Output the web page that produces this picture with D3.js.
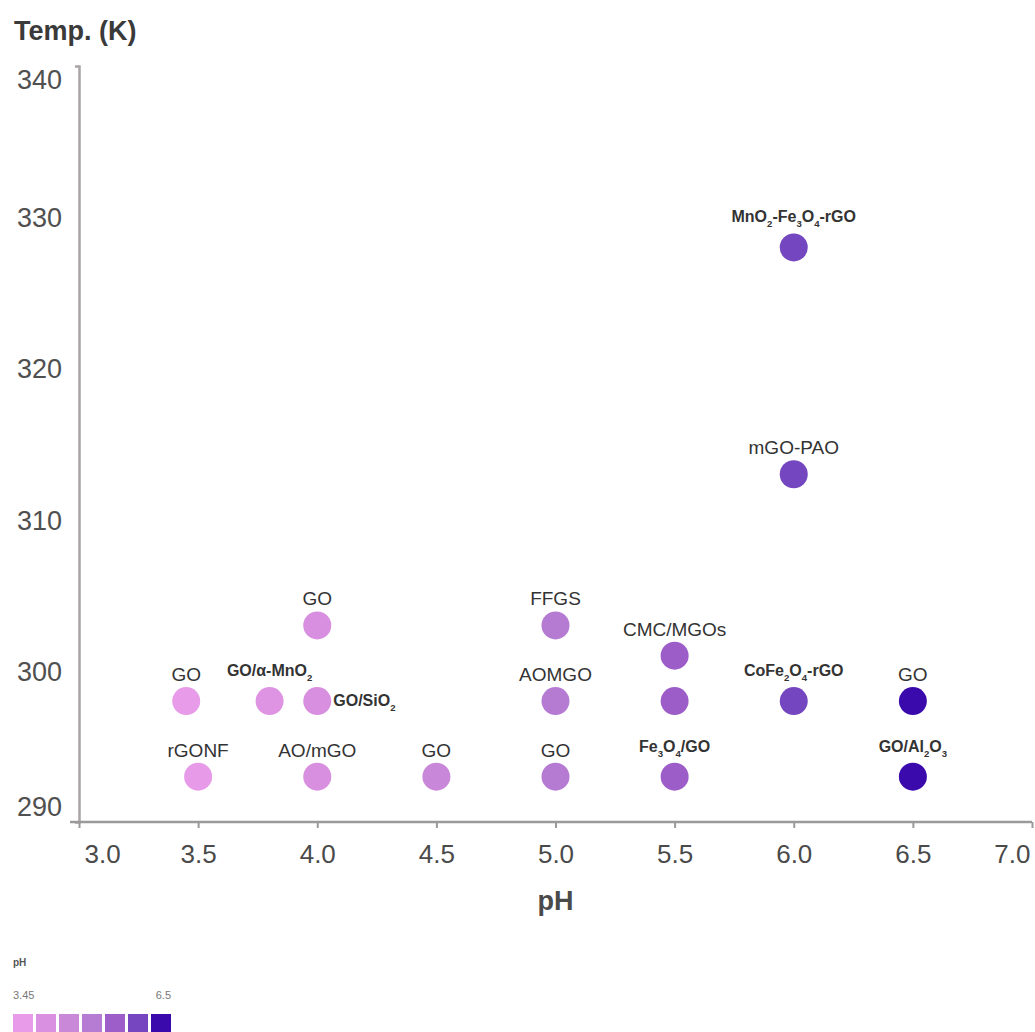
<!DOCTYPE html>
<html>
<head>
<meta charset="utf-8">
<script src="https://cdn.jsdelivr.net/npm/d3@7"></script>
<style>
  body { margin: 0; background: #fff; }
  svg { font-family: "Liberation Sans", Arial, sans-serif; }
</style>
</head>
<body>
<script>
// data
const phValues = [3.45, 3.5, 3.8, 4.0, 4.0, 4.0, 4.5, 5.0, 5.0, 5.0, 5.5, 5.5, 5.5, 6.0, 6.0, 6.0, 6.5, 6.5];
const temps    = [298, 293, 298, 303, 298, 293, 293, 303, 298, 293, 301, 298, 293, 328, 313, 298, 298, 293];
const labels   = ["GO", "rGONF", "GO/α-MnO_2", "GO", "GO/SiO_2", "AO/mGO", "GO", "FFGS", "AOMGO", "GO",
                  "CMC/MGOs", "", "Fe_3O_4/GO", "MnO_2-Fe_3O_4-rGO", "mGO-PAO", "CoFe_2O_4-rGO", "GO", "GO/Al_2O_3"];
const xTicks = [3.0, 3.5, 4.0, 4.5, 5.0, 5.5, 6.0, 6.5, 7.0];
const yTicks = [290, 300, 310, 320, 330, 340];
const legendRange = [3.45, 6.5];

const width = 1035, height = 1032;
const svg = d3.select("body").append("svg")
  .attr("width", width)
  .attr("height", height);

const x = d3.scaleLinear().domain([3, 7]).range([79, 1032]);
const y = d3.scaleLinear().domain([290, 340]).range([822, 66]);

const color = d3.scaleLinear()
  .domain([3.45, 4.0, 4.5, 5.0, 5.5, 6.0, 6.5])
  .range(["#e79be9", "#d98fdf", "#c987d9", "#b57bd3", "#9d5dc9", "#7446bf", "#3a0aac"]);

// axes
const yAxis = d3.axisLeft(y).tickValues(yTicks).tickSizeInner(0).tickSizeOuter(4).tickFormat(d3.format("d"));
const xAxis = d3.axisBottom(x).tickValues(xTicks).tickSizeInner(6).tickSizeOuter(0).tickFormat(d3.format(".1f"));

const gy = svg.append("g").attr("transform", "translate(79,0)").call(yAxis);
gy.select(".domain").attr("stroke", "#a9a3a7").attr("stroke-width", 2.5);
gy.selectAll(".tick text")
  .attr("x", -17)
  .attr("fill", "#505050")
  .attr("font-size", 27)
  .attr("dy", d => d === 340 ? "0.85em" : d === 290 ? "-0.25em" : "0.35em");

const gx = svg.append("g").attr("transform", "translate(0,822)").call(xAxis);
gx.select(".domain").attr("stroke", "#9a9a9a").attr("stroke-width", 2.5);
gx.selectAll(".tick line").attr("stroke", "#9a9a9a").attr("stroke-width", 2);
gx.selectAll(".tick text")
  .attr("y", 23)
  .attr("fill", "#4a4a4a")
  .attr("font-size", 26)
  .attr("text-anchor", d => d === 3.0 ? "start" : d === 7.0 ? "end" : "middle")
  .attr("x", d => d === 3.0 ? 5 : d === 7.0 ? -2 : 0);

svg.selectAll(".domain").attr("fill", "none");
gx.select(".domain").attr("d", "M70,0H1032");

// titles
svg.append("text")
  .attr("x", 14).attr("y", 40)
  .attr("font-size", 27).attr("font-weight", "bold").attr("fill", "#3a3a3a")
  .text("Temp. (K)");

svg.append("text")
  .attr("x", (x(3) + x(7)) / 2).attr("y", 910)
  .attr("text-anchor", "middle")
  .attr("font-size", 27).attr("font-weight", "bold").attr("fill", "#4a4a4a")
  .text("pH");

// points
const pts = phValues.map((p, i) => ({ ph: p, t: temps[i], label: labels[i] }));

svg.append("g").selectAll("circle")
  .data(pts)
  .join("circle")
  .attr("cx", d => x(d.ph))
  .attr("cy", d => y(d.t))
  .attr("r", 14)
  .attr("fill", d => color(d.ph));

// labels with subscripts ("_2" -> subscript 2)
const boldLabels = new Set(["GO/α-MnO_2", "GO/SiO_2", "Fe_3O_4/GO", "MnO_2-Fe_3O_4-rGO", "CoFe_2O_4-rGO", "GO/Al_2O_3"]);

function addLabel(sel, str) {
  const parts = str.split(/(_\d)/).filter(s => s.length);
  let shift = 0;
  parts.forEach(s => {
    if (s[0] === "_") {
      sel.append("tspan").attr("font-size", "0.6em").attr("dy", 5 - shift).text(s.slice(1));
      shift = 5;
    } else {
      sel.append("tspan").attr("dy", -shift).text(s);
      shift = 0;
    }
  });
}

const lab = svg.append("g").selectAll("text")
  .data(pts.filter(d => d.label))
  .join("text")
  .attr("fill", "#333")
  .attr("font-size", d => boldLabels.has(d.label) ? 16 : 19)
  .attr("font-weight", d => boldLabels.has(d.label) ? "bold" : "normal")
  .attr("text-anchor", d => d.label === "GO/SiO_2" ? "start" : "middle")
  .attr("x", d => d.label === "GO/SiO_2" ? x(d.ph) + 16 : x(d.ph))
  .attr("y", d => d.label === "GO/SiO_2" ? y(d.t) + 5 : y(d.t) - (boldLabels.has(d.label) ? 25 : 20));
lab.each(function(d) { addLabel(d3.select(this), d.label); });

// legend
const nSw = 7;
const lg = svg.append("g");
lg.append("text").attr("x", 13).attr("y", 966)
  .attr("font-size", 10).attr("font-weight", "bold").attr("fill", "#555").text("pH");
lg.append("text").attr("x", 13).attr("y", 999)
  .attr("font-size", 11).attr("fill", "#777").text(legendRange[0]);
lg.append("text").attr("x", 171).attr("y", 999).attr("text-anchor", "end")
  .attr("font-size", 11).attr("fill", "#777").text(legendRange[1]);
const swX = d3.scaleLinear().domain([0, nSw - 1]).range([13, 151]);
const swVals = d3.range(nSw).map(i => legendRange[0] + i * (legendRange[1] - legendRange[0]) / (nSw - 1));
lg.selectAll("rect")
  .data(swVals)
  .join("rect")
  .attr("x", (d, i) => swX(i))
  .attr("y", 1014)
  .attr("width", 20)
  .attr("height", 20)
  .attr("fill", d => color(d));
</script>
</body>
</html>
